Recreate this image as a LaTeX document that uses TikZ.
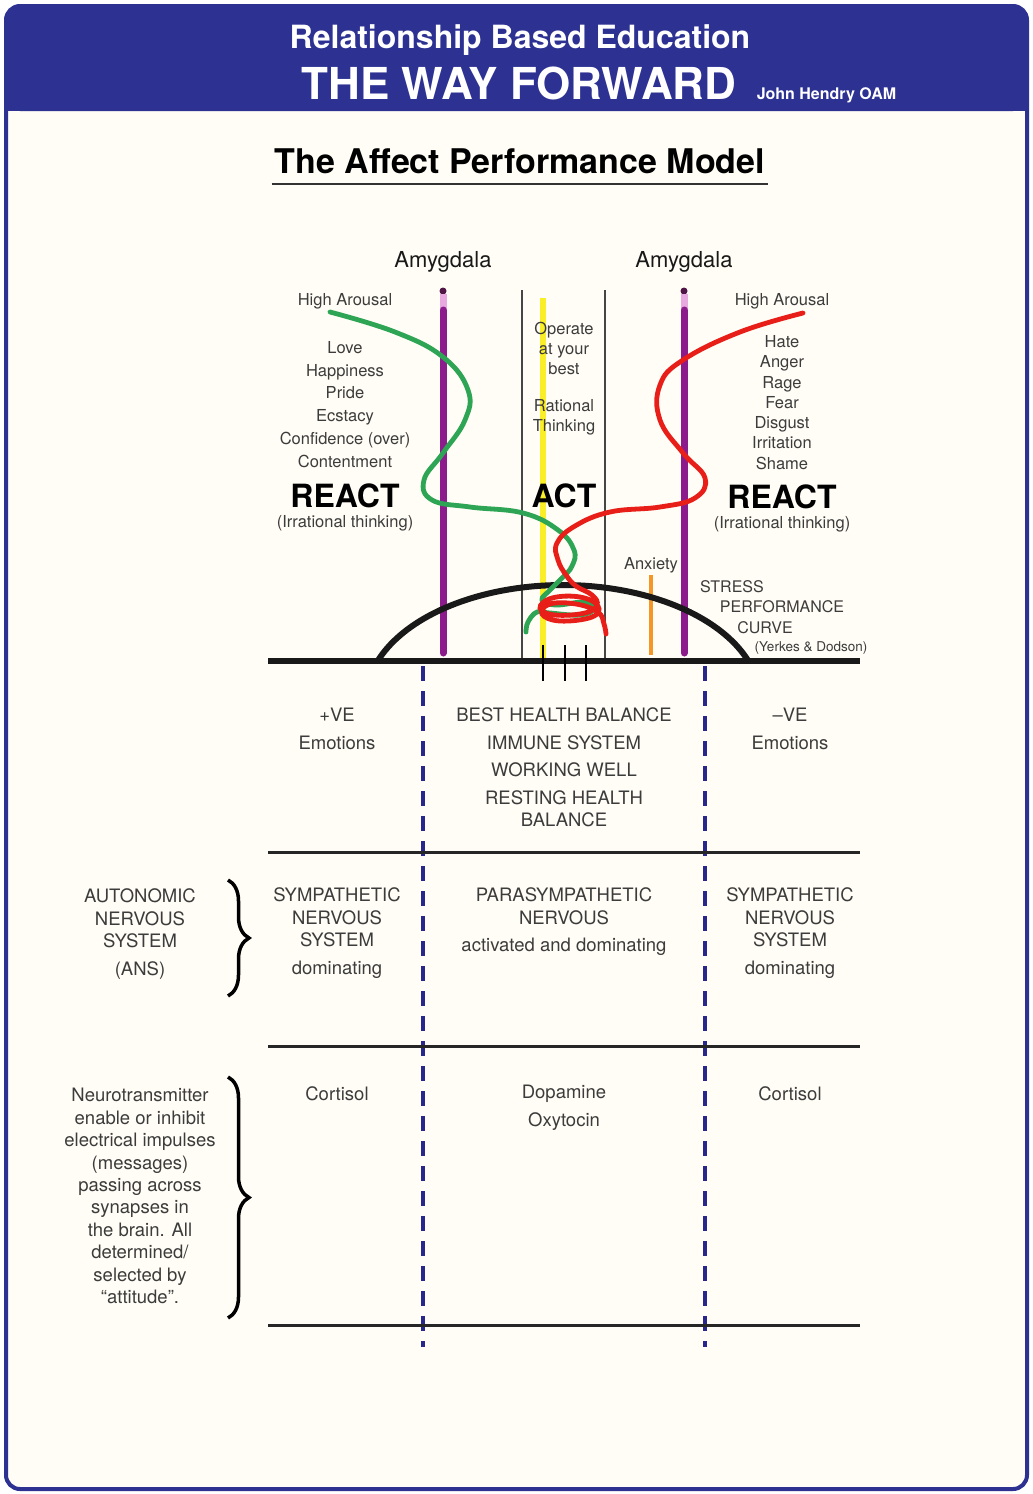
\documentclass[tikz,border=0pt]{standalone}
\usepackage{fontspec}
\setmainfont{TeX Gyre Heros}
\usetikzlibrary{positioning, decorations.pathreplacing}
\definecolor{headerBlue}{RGB}{44, 49, 146}
\definecolor{paperCream}{RGB}{255, 253, 245}
\definecolor{textGray}{RGB}{60, 60, 60}
\definecolor{amygPurple}{RGB}{140, 28, 140}
\definecolor{amygPink}{RGB}{232, 168, 224}
\definecolor{amygDark}{RGB}{80, 20, 70}
\definecolor{calmYellow}{RGB}{250, 238, 40}
\definecolor{anxOrange}{RGB}{245, 150, 40}
\definecolor{posGreen}{RGB}{45, 165, 85}
\definecolor{negRed}{RGB}{232, 30, 25}
\definecolor{divBlue}{RGB}{40, 40, 140}
\definecolor{railGray}{RGB}{70, 70, 70}

\begin{document}
\begin{tikzpicture}[x=1pt, y=-1pt,
    hdr/.style={inner sep=0pt, text=white},
    lbl/.style={inner sep=0pt, text=textGray, align=center, font=\fontsize{16.5}{20.3}\selectfont},
    row/.style={inner sep=0pt, text=textGray, align=center, font=\fontsize{18.5}{22.5}\selectfont},
    react/.style={inner sep=0pt, font=\fontsize{32}{36}\selectfont\bfseries},
    amyg/.style={inner sep=0pt, text=black!90, font=\fontsize{22}{26}\selectfont},
    rail/.style={railGray, line width=1.5pt},
    amygline/.style={amygPurple, line width=7pt, line cap=round},
    divider/.style={divBlue, line width=4pt, dash pattern=on 15pt off 10pt},
    rule/.style={black!85, line width=3pt},
    curlybrace/.style={black, line width=3.5pt, decorate, decoration={brace, amplitude=21pt}}]
            \useasboundingbox (0,0) rectangle (1033,1494);

            % Frame and header
            \fill[white] (0,0) rectangle (1033,1494);
            \fill[paperCream, rounded corners=14pt] (6,6) rectangle (1027,1489);
            \fill[headerBlue, rounded corners=14pt] (6,6) rectangle (1027,111);
            \fill[headerBlue] (6,60) rectangle (1027,111);
            \draw[headerBlue, line width=4pt, rounded corners=14pt] (6,6) rectangle (1027,1489);

            \node[hdr, anchor=base, font=\fontsize{32}{36}\selectfont\bfseries] (hdrTop) at (520,48) {Relationship Based Education};
            \node[hdr, anchor=base, font=\fontsize{44}{48}\selectfont\bfseries] (hdrMain) at (519,99) {THE WAY FORWARD};
            \node[hdr, right=20pt of hdrMain.base east, anchor=base west, font=\fontsize{16}{18}\selectfont\bfseries] (hdrAuthor) {John Hendry OAM};

            % Title
            \node[inner sep=0pt, anchor=base, font=\fontsize{34}{38}\selectfont\bfseries] (modelTitle) at (520,173) {The Affect Performance Model};
            \draw[black!80, line width=2.5pt] ([xshift=-3pt, yshift=-11pt]modelTitle.base west) -- ([xshift=3pt, yshift=-11pt]modelTitle.base east);

            % Vertical markers
            \draw[rail] (522,290) -- (522,661);
            \draw[rail] (605,290) -- (605,661);
            \draw[calmYellow, line width=6pt] (543,298) -- (543,661);
            \draw[anxOrange, line width=4.5pt] (651,575) -- (651,655);
            \fill[amygDark] (443,291) circle (3.5pt);
            \draw[amygPink, line width=7pt] (443,294) -- (443,309);
            \draw[amygline] (443,310) -- (443,653);
            \fill[amygDark] (684,291) circle (3.5pt);
            \draw[amygPink, line width=7pt] (684,294) -- (684,309);
            \draw[amygline] (684,310) -- (684,653);

            % Stress performance curve and axis
            \draw[black!90, line width=6pt] plot[domain=19.8:160.2, samples=80] ({563+197*cos(\x)}, {700-115*sin(\x)});
            \draw[black!90, line width=6.5pt] (268,661) -- (860,661);
            \draw[black, line width=1.5pt] (543,645) -- (543,681);
            \draw[black, line width=1.5pt] (565,645) -- (565,681);
            \draw[black, line width=1.5pt] (586,645) -- (586,681);

            % Emotion paths
            \draw[posGreen, line width=4.8pt, line cap=round] plot[smooth, tension=0.7] coordinates {(330,312) (395,332) (443,357) (468,390) (465,420) (443,453) (424,480) (432,500) (470,507) (523,513) (558,530) (574,550) (572,566) (562,578) (550,590) (542,600) (556,605) (585,602) (594,609) (580,615) (550,613) (537,612) (528,622) (526,632)};
            \draw[negRed, line width=4.8pt, line cap=round] plot[smooth, tension=0.7] coordinates {(803,313) (740,332) (683,360) (660,385) (660,420) (683,453) (705,478) (695,498) (660,507) (610,512) (575,526) (557,543) (558,560) (566,575) (576,586) (592,595) (597,605) (585,613) (555,615) (540,608) (552,598) (580,597) (598,606) (592,617) (560,621) (542,614) (550,604) (576,604) (598,612) (604,624) (606,634)};

            % Grid
            \draw[divider] (423,666) -- (423,1347);
            \draw[divider] (705,666) -- (705,1347);
            \draw[rule] (268,852) -- (860,852);
            \draw[rule] (268,1046) -- (860,1046);
            \draw[rule] (268,1325) -- (860,1325);

            % Upper labels
            \node[amyg, anchor=base] (amygL) at (443,267) {Amygdala};
            \node[amyg, anchor=base] (amygR) at (684,267) {Amygdala};
            \node[lbl] (arousalL) at (345,301) {High Arousal};
            \node[lbl] (arousalR) at (782,301) {High Arousal};
            \node[lbl, font=\fontsize{16.5}{22.9}\selectfont] (posList) at (345,404.5) {Love\\Happiness\\Pride\\Ecstacy\\Confidence (over)\\Contentment};
            \node[lbl] (negList) at (782,402.5) {Hate\\Anger\\Rage\\Fear\\Disgust\\Irritation\\Shame};
            \node[lbl] (operate) at (564,348.5) {Operate\\at your\\best};
            \node[lbl] (rational) at (564,417) {Rational\\Thinking};
            \node[react] (reactL) at (345,496) {REACT};
            \node[react] (act) at (564,496) {ACT};
            \node[react] (reactR) at (782,497) {REACT};
            \node[lbl] (irrL) at (345,523) {(Irrational thinking)};
            \node[lbl] (irrR) at (782,524) {(Irrational thinking)};
            \node[lbl] (anxiety) at (651,565) {Anxiety};
            \node[lbl, font=\fontsize{16}{20}\selectfont] (stress) at (732,587) {STRESS};
            \node[lbl, font=\fontsize{16}{20}\selectfont] (perf) at (782,607) {PERFORMANCE};
            \node[lbl, font=\fontsize{16}{20}\selectfont] (curve) at (765,628) {CURVE};
            \node[lbl, font=\fontsize{13.5}{16}\selectfont] (yerkes) at (811,648) {(Yerkes \& Dodson)};

            % Health row
            \node[row] (posVE) at (337,729) {+VE\\[5pt]Emotions};
            \node[row] (balance) at (564,767.5) {BEST HEALTH BALANCE\\[5pt]IMMUNE SYSTEM\\[5pt]WORKING WELL\\[5pt]RESTING HEALTH\\BALANCE};
            \node[row] (negVE) at (790,729) {\textendash VE\\[5pt]Emotions};

            % Nervous system row
            \node[row] (ansLabel) at (140,934.5) {AUTONOMIC\\NERVOUS\\SYSTEM\\[5.5pt](ANS)};
            \node[row] (symL) at (337,933) {SYMPATHETIC\\NERVOUS\\SYSTEM\\[5pt]dominating};
            \node[row] (para) at (564,922) {PARASYMPATHETIC\\NERVOUS\\[5pt]activated and dominating};
            \node[row] (symR) at (790,933) {SYMPATHETIC\\NERVOUS\\SYSTEM\\[5pt]dominating};
            \draw[curlybrace] (228,880) -- (228,996);

            % Neurotransmitter row
            \node[row, font=\fontsize{18.5}{22.4}\selectfont] (neuroLabel) at (140,1196) {Neurotransmitter\\enable or inhibit\\electrical impulses\\(messages)\\passing across\\synapses in\\the brain. All\\determined/\\selected by\\“attitude”.};
            \node[row] (cortL) at (337,1094) {Cortisol};
            \node[row, font=\fontsize{18.5}{28}\selectfont] (dopa) at (564,1108) {Dopamine\\Oxytocin};
            \node[row] (cortR) at (790,1094) {Cortisol};
            \draw[curlybrace] (228,1077) -- (228,1318);
        \end{tikzpicture}
\end{document}
